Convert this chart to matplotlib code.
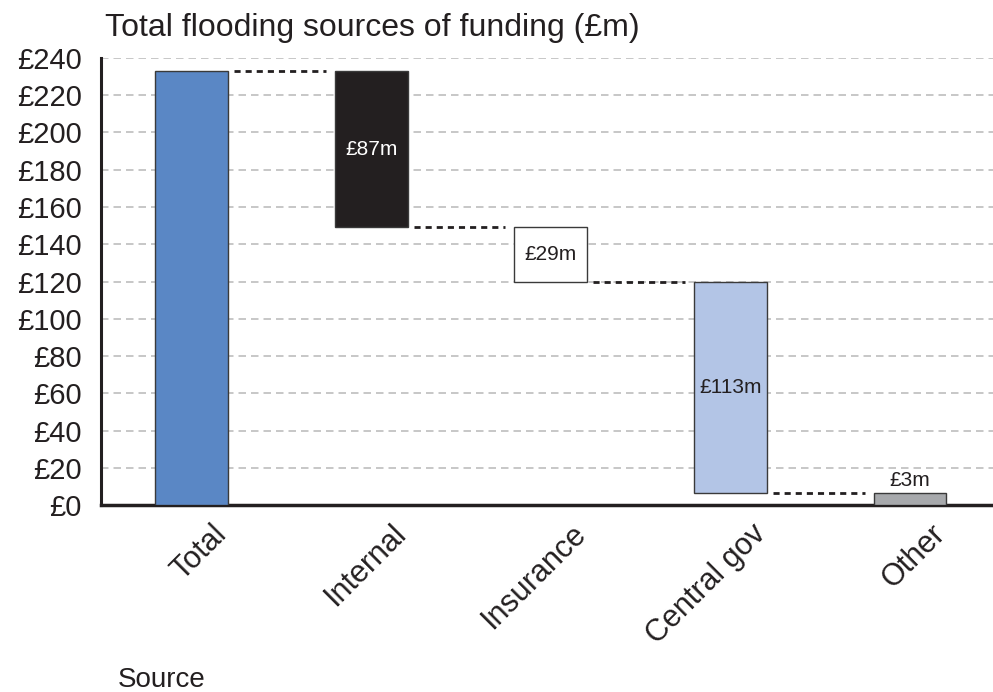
import matplotlib
matplotlib.use("Agg")
import matplotlib.pyplot as plt
import matplotlib.transforms as mtransforms

plt.rcParams['font.family'] = ['Liberation Sans', 'DejaVu Sans']

categories = ["Total", "Internal", "Insurance", "Central gov", "Other"]
bar_bottoms = [0, 149, 120, 6.5, 0]
bar_tops = [233, 233, 149, 120, 6.5]
bar_labels = [None, "£87m", "£29m", "£113m", "£3m"]
bar_colors = ["#5a87c5", "#231f20", "#ffffff", "#b3c5e6", "#a7a9ac"]
label_colors = [None, "white", "#231f20", "#231f20", "#231f20"]
yticks = list(range(0, 241, 20))
ytick_labels = [f"£{v}" for v in yticks]

fig = plt.figure(figsize=(9.93, 6.92), dpi=100)
ax = fig.add_axes([0.1017, 0.2702, 0.8983, 0.646])

x = list(range(len(categories)))
width = 0.405
heights = [t - b for t, b in zip(bar_tops, bar_bottoms)]
ax.bar(x, heights, bottom=bar_bottoms, width=width, color=bar_colors,
       edgecolor="#3a3a3a", linewidth=1.0, zorder=3)

# connectors
for i in range(len(categories) - 1):
    level = bar_bottoms[i] if i > 0 else bar_tops[0]
    ax.plot([x[i] + width / 2 + 0.035, x[i + 1] - width / 2 - 0.05], [level, level],
            color="#231f20", linewidth=2.0, linestyle=(0, (2.2, 1.8)), zorder=2,
            solid_capstyle="butt", dash_capstyle="butt")

# bar value labels
for i, lab in enumerate(bar_labels):
    if lab is None:
        continue
    if i == len(categories) - 1:
        ax.text(x[i], bar_tops[i] + 1.5, lab, ha="center", va="bottom",
                fontsize=15, color=label_colors[i], zorder=4)
    else:
        ax.text(x[i], (bar_tops[i] + bar_bottoms[i]) / 2, lab, ha="center",
                va="center", fontsize=15, color=label_colors[i], zorder=4)

ax.set_xlim(-0.504, 4.462)
ax.set_ylim(0, 240)
ax.set_yticks(yticks)
ax.set_yticklabels(ytick_labels, fontsize=21, color="#231f20")
ax.yaxis.grid(True, color="#bdbdbd", linestyle=(0, (4.5, 3)), linewidth=1.2, zorder=0)
ax.set_axisbelow(True)
ax.tick_params(axis="y", length=0, pad=14)
ax.tick_params(axis="x", length=0, pad=10)

ax.set_xticks(x)
ax.set_xticklabels(categories, fontsize=22, rotation=45, ha="right", va="top",
                   rotation_mode="anchor", color="#231f20")
offset = mtransforms.ScaledTranslation(0.20, 0, fig.dpi_scale_trans)
for lbl in ax.get_xticklabels():
    lbl.set_transform(lbl.get_transform() + offset)

for s in ["top", "right"]:
    ax.spines[s].set_visible(False)
ax.spines["left"].set_linewidth(2.2)
ax.spines["bottom"].set_linewidth(2.5)
ax.spines["left"].set_color("#231f20")
ax.spines["bottom"].set_color("#231f20")

fig.text(105 / 993, 1 - 36 / 692, "Total flooding sources of funding (£m)",
         fontsize=23, color="#231f20", ha="left", va="baseline")
fig.text(118 / 993, 1 - 687 / 692, "Source", fontsize=20, color="#231f20",
         ha="left", va="baseline")

fig.savefig("out.png", dpi=100)
